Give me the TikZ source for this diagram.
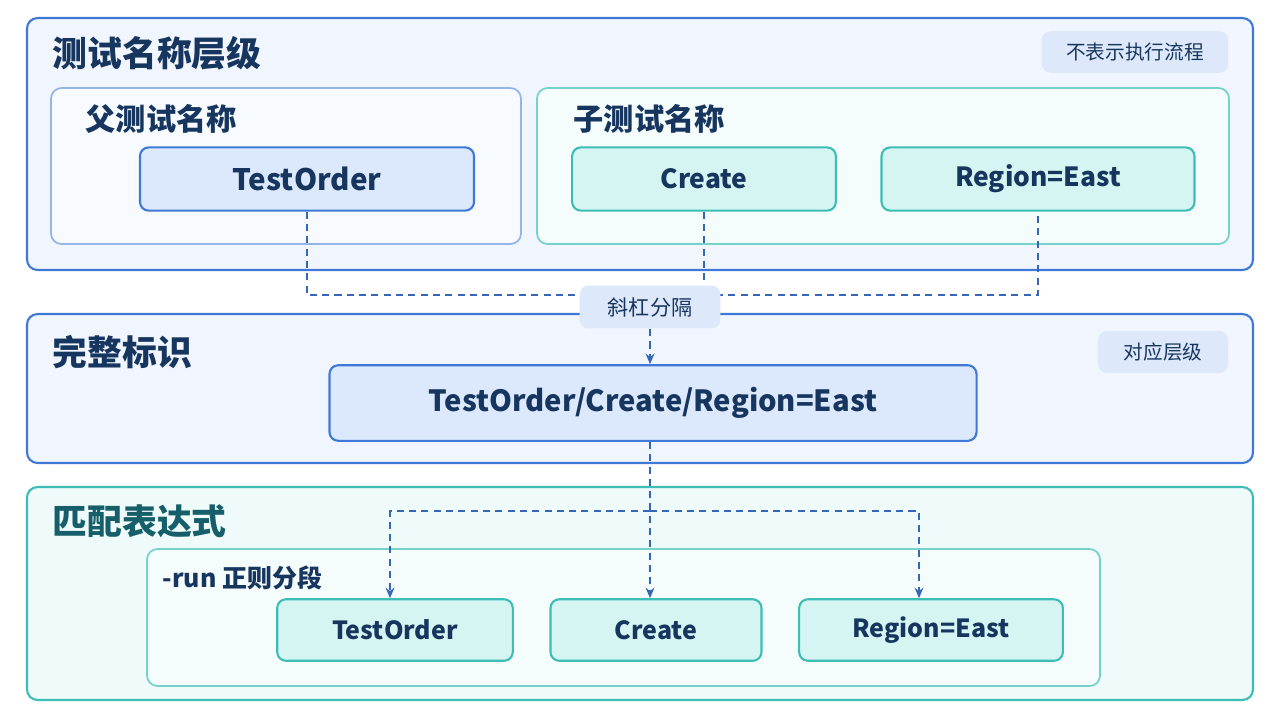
\documentclass[tikz,border=0pt]{standalone}
\usepackage{fontspec}
\setmainfont{Noto Sans CJK SC}
\usetikzlibrary{arrows.meta}
\definecolor{navy}{HTML}{17365F}
\definecolor{bblue}{HTML}{3F78D6}
\definecolor{bfill}{HTML}{F1F6FE}
\definecolor{nfill}{HTML}{DCE9FC}
\definecolor{tteal}{HTML}{3DBDB5}
\definecolor{tfill}{HTML}{EEFBFA}
\definecolor{nteal}{HTML}{D5F5F2}
\definecolor{tagfill}{HTML}{DDE8FA}
\definecolor{tealtxt}{HTML}{155E6A}
\begin{document}
\begin{tikzpicture}[x=0.01cm,y=-0.01cm,
 panel/.style={draw=bblue,fill=bfill,rounded corners=3pt,line width=0.6pt},
 tpanel/.style={draw=tteal,fill=tfill,rounded corners=3pt,line width=0.6pt},
 ipanel/.style={draw=bblue!55,fill=bfill!60!white,rounded corners=3pt,line width=0.5pt},
 itpanel/.style={draw=tteal!70,fill=tfill!60!white,rounded corners=3pt,line width=0.5pt},
 title/.style={anchor=west,inner sep=0pt,font=\bfseries\fontsize{9.9pt}{11pt}\selectfont,text=navy},
 sub/.style={anchor=west,inner sep=0pt,font=\bfseries\fontsize{8.6pt}{9pt}\selectfont,text=navy},
 bnode/.style={draw=bblue,fill=nfill,rounded corners=2.5pt,line width=0.6pt,font=\bfseries\fontsize{8.4pt}{9pt}\selectfont,text=navy},
 tnode/.style={draw=tteal,fill=nteal,rounded corners=2.5pt,line width=0.6pt,font=\bfseries\fontsize{7.5pt}{8pt}\selectfont,text=navy},
 tag/.style={fill=tagfill,rounded corners=2.5pt,font=\fontsize{5.6pt}{6pt}\selectfont,text=navy},
 dl/.style={draw=bblue!85!black,dashed,line width=0.5pt,dash pattern=on 2pt off 1.5pt},
 arr/.style={dl,-{Stealth[length=3pt,width=2.5pt]}}]
\useasboundingbox[fill=white] (0,0) rectangle (1280,720);
% top
\draw[panel] (27,18) rectangle (1253,270);
\node[title] (t1) at (52,53) {测试名称层级};
\node[tag,minimum width=53pt,minimum height=10.8pt] (tag1) at (1135,52) {不表示执行流程};
\draw[ipanel] (51,88) rectangle (521,244);
\node[sub] (s1) at (85,119) {父测试名称};
\draw[itpanel] (537,88) rectangle (1229,244);
\node[sub] (s2) at (573,119) {子测试名称};
\node[bnode,minimum width=95pt,minimum height=18pt] (to) at (307,179) {TestOrder};
\node[tnode,minimum width=75pt,minimum height=18pt] (cr) at (704,179) {Create};
\node[tnode,minimum width=89pt,minimum height=18pt] (re) at (1038,179) {Region=East};
% middle
\draw[panel] (27,314) rectangle (1253,463);
\node[title] (t2) at (52,352) {完整标识};
\node[tag,minimum width=37pt,minimum height=10.8pt] (tag2) at (1163,352) {对应层级};
\node[bnode,minimum width=184pt,minimum height=21.5pt,font=\bfseries\fontsize{8.3pt}{9pt}\selectfont] (full) at (653,403) {TestOrder/Create/Region=East};
% bottom
\draw[tpanel] (27,487) rectangle (1253,700);
\node[title,text=tealtxt] (t3) at (52,521) {匹配表达式};
\draw[itpanel] (147,549) rectangle (1100,686);
\node[sub,font=\bfseries\fontsize{7.1pt}{8pt}\selectfont] (s3) at (162,578) {-run 正则分段};
\node[tnode,minimum width=67pt,minimum height=17.5pt,font=\bfseries\fontsize{7.1pt}{8pt}\selectfont] (b1) at (395,630) {TestOrder};
\node[tnode,minimum width=60pt,minimum height=17.5pt,font=\bfseries\fontsize{7.1pt}{8pt}\selectfont] (b2) at (656,630) {Create};
\node[tnode,minimum width=75pt,minimum height=17.5pt,font=\bfseries\fontsize{7.1pt}{8pt}\selectfont] (b3) at (931,630) {Region=East};
% connectors
\coordinate (j1) at (307,295);
\coordinate (j3) at (1038,295);
\coordinate (jb) at (650,511);
\draw[dl] (to.south) -- (j1) -- (j3) -- (re.south);
\draw[dl] (cr.south) -- (704,295);
\node[tag,fill=tagfill,minimum width=40pt,minimum height=12pt,font=\fontsize{6pt}{7pt}\selectfont] (sl) at (650,307) {斜杠分隔};
\draw[arr] (sl.south) -- (full.north -| sl.south);
\draw[arr] (full.south -| jb) -- (b2.north -| jb);
\draw[arr] (jb) -| (b1.north -| 390,0);
\draw[arr] (jb) -| (b3.north -| 919,0);
\end{tikzpicture}
\end{document}
